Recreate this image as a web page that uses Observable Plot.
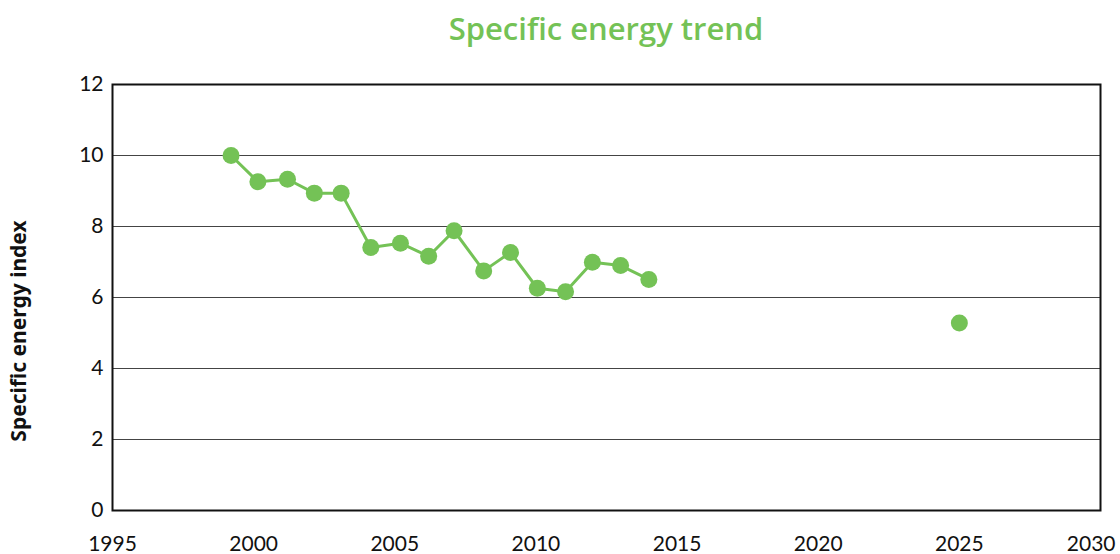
<!DOCTYPE html>
<html>
<head>
<meta charset="utf-8">
<script src="https://cdn.jsdelivr.net/npm/d3@7"></script>
<script src="https://cdn.jsdelivr.net/npm/@observablehq/plot@0.6"></script>
<style>
  html, body { margin: 0; padding: 0; background: white; }
  #wrap { position: relative; width: 1120px; height: 554px; overflow: hidden; }
  #title { height: 60px; position: relative; }
  #title span { position: absolute; left: 112px; width: 988px; top: 10px; text-align: center;
    font-family: "Open Sans", sans-serif; font-weight: 600; font-size: 31px; color: #74c256; line-height: 1.2; }
  #ylabel { position: absolute; left: 18px; top: 331px; transform: translate(-50%, -50%) rotate(-90deg);
    font-family: "Noto Sans", sans-serif; font-weight: 700; font-size: 21px; white-space: nowrap; color: #111; }
  svg { display: block; }
</style>
</head>
<body>
<div id="wrap">
  <div id="title"><span>Specific energy trend</span></div>
  <div id="chart"></div>
  <div id="ylabel">Specific energy index</div>
</div>
<script>
// Historical series (year, index)
const years = [1999.2, 2000.15, 2001.2, 2002.15, 2003.1, 2004.15, 2005.2, 2006.2, 2007.1, 2008.15, 2009.1, 2010.05, 2011.05, 2012, 2013, 2014];
const values = [10.0, 9.26, 9.33, 8.94, 8.94, 7.41, 7.53, 7.16, 7.88, 6.75, 7.27, 6.26, 6.16, 6.99, 6.90, 6.51];
// Target point
const targetYears = [2025];
const targetValues = [5.28];
// Axis ticks
const xTicks = [1995, 2000, 2005, 2010, 2015, 2020, 2025, 2030];
const yTicks = [0, 2, 4, 6, 8, 10, 12];

const green = "#74c256";
const hist = years.map((x, i) => ({x, y: values[i]}));
const target = targetYears.map((x, i) => ({x, y: targetValues[i]}));

const chart = Plot.plot({
  width: 1120,
  height: 494,
  marginLeft: 112,
  marginRight: 20,
  marginTop: 24,
  marginBottom: 44,
  x: {domain: [1995, 2030]},
  y: {domain: [0, 12]},
  style: {fontFamily: "Lato, sans-serif", fontSize: "21px", color: "#111", background: "white", overflow: "visible"},
  marks: [
    Plot.ruleY(yTicks.filter(d => d > 0 && d < 12), {stroke: "#444", strokeWidth: 1.1}),
    Plot.frame({stroke: "#111", strokeWidth: 2}),
    Plot.axisY({ticks: yTicks, tickSize: 0, tickPadding: 9, label: null, tickFormat: d => String(d)}),
    Plot.axisX({ticks: xTicks.slice(0, -1), tickSize: 0, tickPadding: 26, label: null, tickFormat: d => String(d)}),
    Plot.axisX({ticks: xTicks.slice(-1), tickSize: 0, tickPadding: 26, label: null, tickFormat: d => String(d), textAnchor: "end", dx: 15}),
    Plot.line(hist, {x: "x", y: "y", stroke: green, strokeWidth: 3}),
    Plot.dot(hist, {x: "x", y: "y", r: 8.5, fill: green}),
    Plot.dot(target, {x: "x", y: "y", r: 8.5, fill: green})
  ]
});
document.getElementById("chart").appendChild(chart);
</script>
</body>
</html>
